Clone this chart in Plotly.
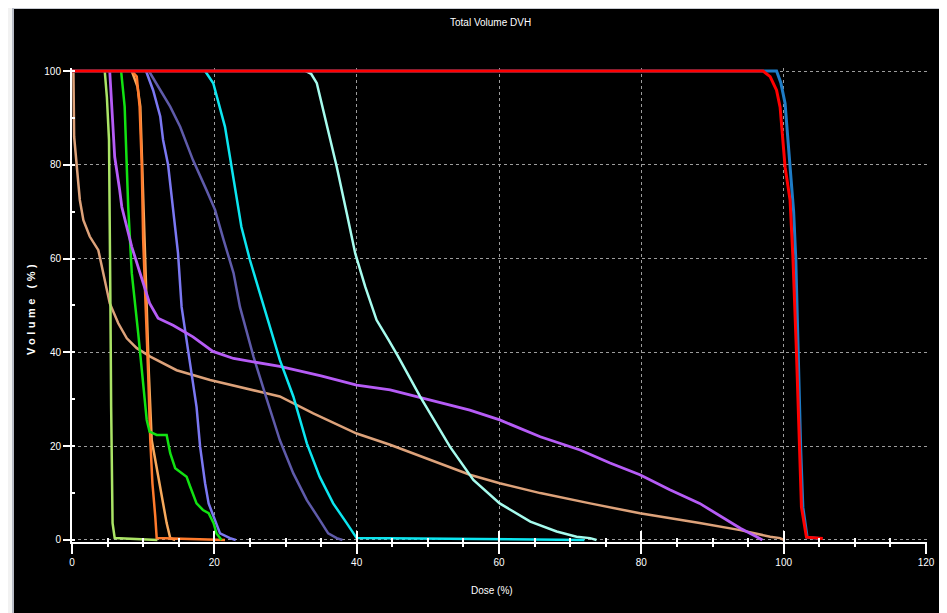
import plotly.graph_objects as go

# ---------------- data ----------------
tan_dose = [0.0, 0.2, 0.3, 0.65, 1.1, 1.6, 2.5, 3.7, 4.4, 5.3, 6.5, 7.7, 9.1, 11.0, 14.7, 19.4, 26.4, 29.2,
            33.9, 40.0, 44.7, 50.3, 55.9, 60.1, 65.8, 72.8, 79.8, 88.2, 93.9, 98.1, 99.5, 100.0]
tan_vol = [100, 100, 86.0, 79.6, 72.5, 68.2, 64.7, 61.8, 56.9, 50.5, 46.2, 43.0, 40.9, 39.1, 36.2, 34.1, 31.6, 30.6,
           27.0, 22.7, 20.3, 17.1, 13.9, 12.1, 10.0, 7.8, 5.7, 3.6, 2.1, 0.7, 0.4, 0]

lgreen_dose = [4.6, 4.9, 5.2, 5.3, 5.4, 5.5, 5.7, 6.0, 12.0]
lgreen_vol = [100, 94.5, 85.3, 72.5, 50.0, 28.4, 3.6, 0.4, 0]

purple_dose = [5.3, 5.6, 6.0, 6.7, 7.0, 8.4, 9.55, 10.9, 12.1, 14.2, 17.0, 19.8, 22.7, 26.4, 29.2, 35.0, 40.0,
               44.7, 50.3, 55.9, 60.1, 65.8, 71.4, 75.6, 79.8, 84.0, 88.2, 92.0, 93.9, 96.2, 97.0]
purple_vol = [100, 92.4, 81.7, 74.6, 71.0, 62.5, 56.9, 50.5, 47.3, 45.8, 43.3, 40.2, 38.7, 37.7, 37.0, 35.0, 33.0,
              32.0, 29.9, 27.7, 25.6, 22.0, 19.2, 16.4, 13.9, 10.7, 7.8, 4.3, 2.5, 0.7, 0]

green_dose = [6.9, 7.4, 7.9, 8.4, 9.3, 10.0, 10.5, 10.9, 11.9, 13.3, 13.8, 14.5, 15.4, 16.1, 16.6, 17.5, 18.4,
              19.2, 19.9, 20.3, 20.8, 21.0]
green_vol = [100, 92.4, 71.0, 56.9, 44.1, 34.1, 25.6, 23.1, 22.4, 22.4, 18.5, 15.3, 14.2, 13.5, 11.4, 7.8, 6.4,
             5.7, 3.6, 1.4, 0.4, 0]

orange_dose = [8.4, 9.1, 9.5, 9.8, 10.0, 10.4, 10.7, 11.0, 11.3, 11.7, 11.9, 21.5]
orange_vol = [100, 98.8, 92.4, 80.0, 64.0, 49.7, 35.5, 21.3, 12.1, 5.0, 0.4, 0]

peach_dose = [8.4, 9.2, 9.6, 9.9, 10.1, 10.5, 10.8, 11.2, 12.4, 13.3, 13.8, 14.5]
peach_vol = [100, 96.7, 92.4, 78.2, 64.0, 49.7, 35.5, 21.3, 10.7, 3.6, 0.4, 0]

slate_dose = [10.4, 11.4, 12.4, 12.8, 13.5, 14.2, 14.9, 15.4, 16.1, 16.8, 17.5, 18.0, 18.7, 19.2, 20.1, 20.8,
              22.2, 23.0]
slate_vol = [100, 95.9, 90.3, 85.3, 80.0, 71.0, 61.1, 49.7, 42.6, 35.5, 28.4, 19.9, 12.1, 7.8, 4.3, 1.4, 0.4, 0]

dslate_dose = [10.8, 12.4, 13.8, 15.2, 17.0, 18.9, 20.1, 21.3, 22.7, 23.6, 25.5, 27.4, 29.2, 31.1, 33.0, 34.8,
               36.0, 37.2, 38.0]
dslate_vol = [100, 95.9, 92.4, 88.1, 81.0, 74.6, 70.4, 64.0, 56.9, 49.7, 39.1, 29.9, 21.3, 14.2, 8.5, 4.3,
              1.4, 0.4, 0]

cyan_dose = [18.7, 19.85, 21.5, 22.4, 23.8, 25.0, 26.4, 27.8, 29.2, 31.1, 33.0, 34.8, 36.7, 38.6, 40.0, 72.0]
cyan_vol = [100, 97.4, 88.1, 79.6, 66.8, 59.7, 52.6, 45.5, 38.4, 30.6, 20.6, 13.5, 7.8, 3.6, 0.4, 0]

lcyan_dose = [32.8, 33.6, 34.4, 35.8, 37.2, 38.6, 39.8, 41.2, 42.8, 44.5, 45.8, 48.9, 53.1, 56.4, 60.1, 64.4,
              68.1, 70.9, 72.8, 73.7]
lcyan_vol = [100, 99.4, 97.4, 88.8, 79.6, 69.7, 61.1, 54.0, 46.9, 42.6, 39.2, 30.6, 19.9, 12.8, 7.8, 3.9,
             1.8, 0.7, 0.4, 0]

blue_dose = [0.0, 99.0, 99.6, 100.2, 100.6, 101.0, 101.4, 101.7, 102.0, 102.4, 102.7, 103.3, 105.0]
blue_vol = [100, 100, 97.5, 93.1, 85.3, 78.2, 70.0, 60.0, 40.0, 19.2, 7.0, 0.6, 0.3]

red_dose = [0.0, 97.1, 98.1, 99.0, 99.5, 100.2, 100.9, 101.3, 101.8, 102.2, 102.5, 103.2, 105.5]
red_vol = [100, 100, 98.8, 95.9, 92.3, 79.5, 72.5, 60.3, 39.9, 19.2, 7.0, 0.6, 0.3]

x_ticks = [0, 20, 40, 60, 80, 100, 120]
y_ticks = [0, 20, 40, 60, 80, 100]

series = [
    ("tan", tan_dose, tan_vol, "#DDA27A", 2.5),
    ("light green", lgreen_dose, lgreen_vol, "#ABE466", 2.5),
    ("dark slate", dslate_dose, dslate_vol, "#5F5BAA", 2.5),
    ("slate", slate_dose, slate_vol, "#7B78F2", 2.5),
    ("peach", peach_dose, peach_vol, "#F7A95C", 2.5),
    ("orange", orange_dose, orange_vol, "#FF7A2C", 2.5),
    ("green", green_dose, green_vol, "#12E212", 2.5),
    ("purple", purple_dose, purple_vol, "#B65CF6", 2.8),
    ("cyan", cyan_dose, cyan_vol, "#0CE6F0", 2.5),
    ("light cyan", lcyan_dose, lcyan_vol, "#A6FCEE", 2.5),
    ("blue", blue_dose, blue_vol, "#1E7CC6", 3.0),
    ("red", red_dose, red_vol, "#FF0000", 3.0),
]

# ---------------- geometry (page has an 8px body margin) ----------------
OFF = 8                      # default body margin of the page
W, H = 947, 613              # figure overflows the window slightly; black fills to the edges
ML, MT = 72 - OFF, 68 - OFF  # plot area starts at screen (72, 68)
MR = W - (927 - OFF)
MB = H - (542 - OFF)
PW = W - ML - MR
PH = H - MT - MB


def px_x(p):  # screen pixel -> paper x
    return (p - OFF - ML) / PW


def px_y(p):  # screen pixel -> paper y
    return (H - MB - (p - OFF)) / PH


fig = go.Figure()
for name, xs, ys, col, w in series:
    fig.add_trace(go.Scatter(x=xs, y=ys, mode="lines", name=name,
                             line=dict(color=col, width=w), showlegend=False,
                             hoverinfo="skip"))

# empty trace on overlay axis so that the cross-tick axis is drawn
fig.add_trace(go.Scatter(x=[], y=[], xaxis="x2", yaxis="y", showlegend=False))

font_narrow = "Liberation Sans Narrow, Arial Narrow, Liberation Sans, Arial, sans-serif"
grid_col = "#9C9C9C"

fig.update_layout(
    width=W, height=H,
    margin=dict(l=ML, r=MR, t=MT, b=MB, pad=0),
    paper_bgcolor="black", plot_bgcolor="black",
    showlegend=False,
    font=dict(family=font_narrow, color="white", size=10),
    xaxis=dict(range=[0, 120.14], tickvals=x_ticks, ticks="outside", ticklen=10, tickwidth=1.5,
               tickcolor="white", showline=True, linecolor="white", linewidth=2,
               showgrid=True, gridcolor=grid_col, griddash="dot", gridwidth=1, zeroline=False,
               tickfont=dict(family=font_narrow, size=10, color="white"),
               minor=dict(dtick=5, tick0=0, ticks="outside", ticklen=3, tickcolor="white",
                          tickwidth=1.5, showgrid=False)),
    xaxis2=dict(range=[0, 120.14], overlaying="x", anchor="y", side="bottom", tickvals=x_ticks,
                ticks="inside", ticklen=11, tickwidth=1.5, tickcolor="white", showticklabels=False,
                showgrid=False, showline=False, zeroline=False,
                minor=dict(dtick=5, tick0=0, ticks="inside", ticklen=4, tickcolor="white",
                           tickwidth=1.5, showgrid=False)),
    yaxis=dict(range=[-0.43, 100.64], tickvals=y_ticks, ticks="outside", ticklen=7, tickwidth=1.5,
               tickcolor="white", showline=True, linecolor="white", linewidth=2,
               showgrid=True, gridcolor=grid_col, griddash="dot", gridwidth=1, zeroline=False,
               tickfont=dict(family=font_narrow, size=10, color="white"),
               minor=dict(dtick=10, tick0=0, ticks="inside", ticklen=3, tickcolor="white",
                          tickwidth=1.5, showgrid=False)),
)

fig.add_annotation(text="Total Volume DVH", x=px_x(490), y=px_y(23), xref="paper", yref="paper",
                   xanchor="center", yanchor="middle", showarrow=False,
                   font=dict(family=font_narrow, size=10, color="white"))
fig.add_annotation(text='<span style="letter-spacing:3.5px"><b>Volume (%)</b></span>',
                   x=px_x(31), y=px_y(308), xref="paper", yref="paper",
                   xanchor="center", yanchor="middle", showarrow=False, textangle=-90,
                   font=dict(family="Liberation Sans, Arial, sans-serif", size=11, color="white"))
fig.add_annotation(text="Dose (%)", x=px_x(492), y=px_y(590), xref="paper", yref="paper",
                   xanchor="center", yanchor="middle", showarrow=False,
                   font=dict(family=font_narrow, size=10, color="white"))

# window frame: light strip + grey line on the left, thin grey line on top
frame = [
    (8, 8, 12, 620, "#F2F2F2"),
    (12, 8, 14, 620, "#B8BCC6"),
    (14, 8, 960, 9, "#C8CBD2"),
]
for x0, y0, x1, y1, c in frame:
    fig.add_shape(type="rect", xref="paper", yref="paper",
                  x0=px_x(x0), x1=px_x(x1), y0=px_y(y1), y1=px_y(y0),
                  fillcolor=c, line=dict(width=0), layer="above")

fig.write_html("out.html")
